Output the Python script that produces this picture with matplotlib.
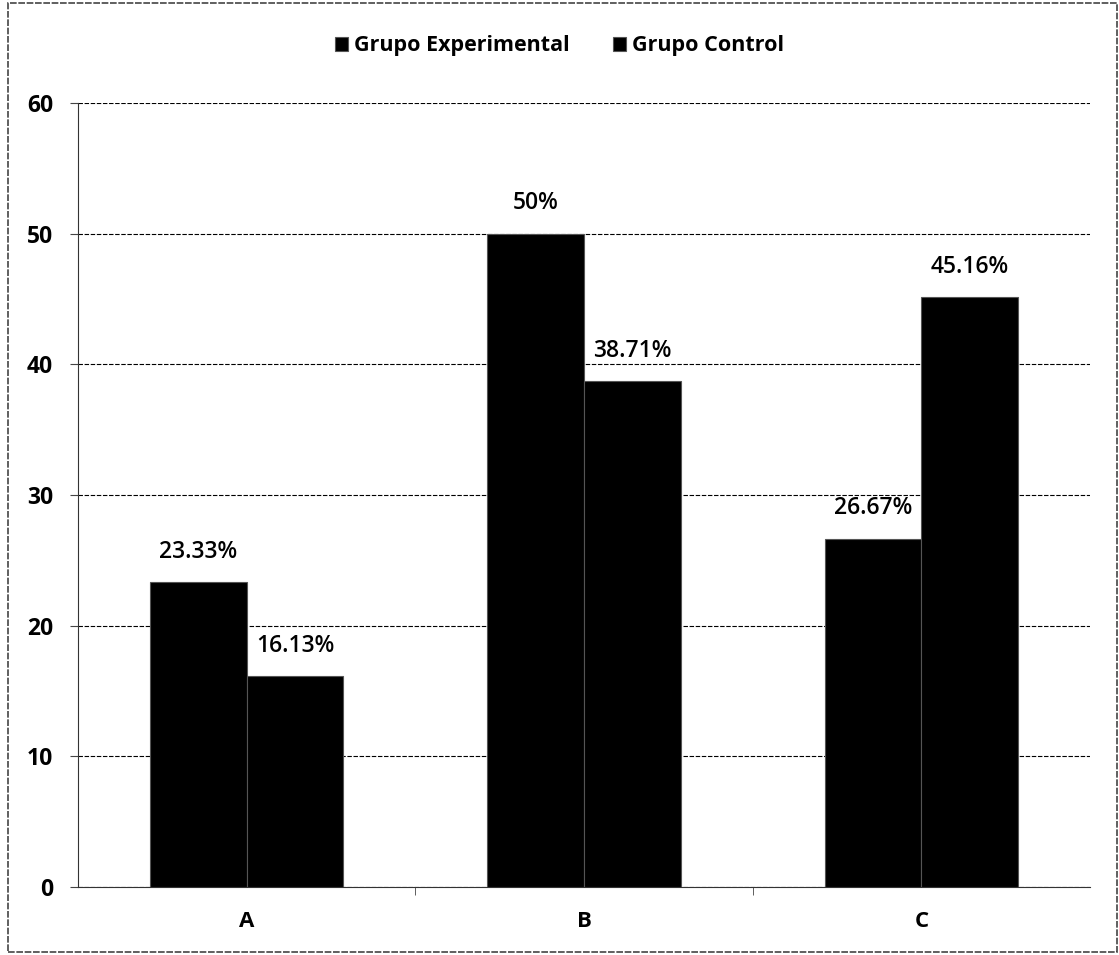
import numpy as np
import matplotlib
matplotlib.use("Agg")
import matplotlib.pyplot as plt
from matplotlib.patches import Rectangle

categories = ["A", "B", "C"]
experimental = [23.33, 50.0, 26.67]
control = [16.13, 38.71, 45.16]
exp_labels = ["23.33%", "50%", "26.67%"]
ctrl_labels = ["16.13%", "38.71%", "45.16%"]
series_names = ["Grupo Experimental", "Grupo Control"]

plt.rcParams['font.family'] = ['Open Sans', 'DejaVu Sans']

fig = plt.figure(figsize=(11.19, 9.55), dpi=100)
ax = fig.add_axes([78/1119, 1 - 887/955, (1090-78)/1119, (887-103)/955])

x = np.arange(len(categories))
w = 0.287
b1 = ax.bar(x - w/2, experimental, w, color="black", edgecolor="#555555", linewidth=0.8,
            label=series_names[0], zorder=3)
b2 = ax.bar(x + w/2, control, w, color="black", edgecolor="#555555", linewidth=0.8,
            label=series_names[1], zorder=3)

for rect, lab in zip(b1, exp_labels):
    ax.text(rect.get_x() + rect.get_width()/2, rect.get_height() + 1.4, lab,
            ha="center", va="bottom", fontsize=16.5, fontweight="semibold")
for rect, lab in zip(b2, ctrl_labels):
    ax.text(rect.get_x() + rect.get_width()/2, rect.get_height() + 1.4, lab,
            ha="center", va="bottom", fontsize=16.5, fontweight="semibold")

ax.set_xlim(-0.5, 2.5)
ax.set_ylim(0, 60)
ax.set_yticks(np.arange(0, 61, 10))
ax.set_xticks(x)
ax.set_xticklabels(categories, fontsize=16, fontweight="bold")
ax.set_xticks([0.5, 1.5], minor=True)
ax.tick_params(axis="x", which="major", length=0, pad=17)
ax.tick_params(axis="x", which="minor", length=6, direction="out", color="#444444")
ax.tick_params(axis="y", length=6, labelsize=16.5, pad=12, color="#444444")
for lab in ax.get_yticklabels():
    lab.set_fontweight("bold")

ax.yaxis.grid(True, color="black", linestyle=(0, (4, 1.5)), linewidth=0.8, zorder=0)
for s in ["top", "right"]:
    ax.spines[s].set_visible(False)
ax.spines["left"].set_linestyle((0, (3, 1)))
ax.spines["left"].set_color("#333333")
ax.spines["bottom"].set_color("#333333")

fig.legend(handles=[b1, b2], labels=series_names, loc="center", ncol=2,
           bbox_to_anchor=(0.5, 1 - 46/955), frameon=False, handlelength=0.6,
           handleheight=0.6, handletextpad=0.3, columnspacing=2.0,
           prop={"size": 15.5, "weight": "bold"})

fig.patches.append(Rectangle((8/1119, 3/955), 1 - 10/1119, 1 - 6/955,
                             transform=fig.transFigure, fill=False,
                             edgecolor="#444444", linewidth=1.2, linestyle=(0, (4, 1))))

fig.savefig("out.png", dpi=100)
